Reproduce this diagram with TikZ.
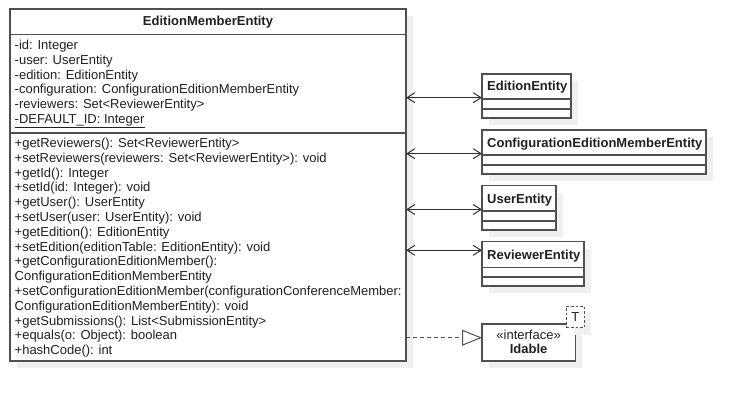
\documentclass[tikz,border=0pt]{standalone}
\usepackage{fontspec}
\setmainfont{Liberation Sans}
\usetikzlibrary{arrows.meta,shadows}
\definecolor{linec}{HTML}{505050}
\definecolor{arrc}{HTML}{303030}
\definecolor{txtc}{HTML}{202020}
\definecolor{shadc}{HTML}{F0F0F0}
\tikzset{
  umlbox/.style={draw=linec, line width=1.1pt, fill=white, inner sep=0pt, outer sep=0pt,
    anchor=north west, drop shadow={shadow xshift=7pt, shadow yshift=-7pt, fill=shadc, opacity=1}},
  tbox/.style={draw=linec, line width=0.9pt, dash pattern=on 2.5pt off 2pt, fill=white, inner sep=0pt, outer sep=0pt,
    anchor=north west, drop shadow={shadow xshift=7pt, shadow yshift=-7pt, fill=shadc, opacity=1}},
  sepline/.style={draw=linec, line width=1.1pt},
  txt/.style={anchor=base west, inner sep=0pt, text=txtc, font=\fontsize{13}{15}\selectfont},
  ttl/.style={anchor=base, inner sep=0pt, text=txtc, font=\fontsize{13}{15}\selectfont\bfseries},
  ctr/.style={anchor=base, inner sep=0pt, text=txtc, font=\fontsize{13}{15}\selectfont},
  assoc/.style={draw=arrc, line width=1.5pt,
    {Straight Barb[length=8pt,width=10pt,line width=1pt]}-{Straight Barb[length=8pt,width=10pt,line width=1pt]}},
  realize/.style={draw=linec, line width=1.3pt, dash pattern=on 4pt off 3pt,
    -{Triangle[open, length=20pt, width=16pt, line width=1pt, fill=white]}},
}
\begin{document}
\begin{tikzpicture}[x=1pt,y=-1pt]
\useasboundingbox (0,0) rectangle (746,401);

% main class
\node[umlbox, minimum width=396, minimum height=352] (main) at (10,9) {};
\coordinate (s1) at (0,34.3);
\coordinate (s2) at (0,133);
\draw[sepline] (main.west |- s1) -- (main.east |- s1);
\draw[sepline] (main.west |- s2) -- (main.east |- s2);
\node[ttl] (title) at (208,25.5) {EditionMemberEntity};

\node[txt] (a1) at (14.5,49.5) {-id: Integer};
\node[txt] (a2) at (14.5,64.3) {-user: UserEntity};
\node[txt] (a3) at (14.5,79.1) {-edition: EditionEntity};
\node[txt] (a4) at (14.5,93.9) {-configuration: ConfigurationEditionMemberEntity};
\node[txt] (a5) at (14.5,108.7) {-reviewers: Set<ReviewerEntity>};
\node[txt] (a6) at (14.5,123.5) {\underline{-DEFAULT\_ID: Integer}};

\node[txt] (m1) at (14.5,147.5) {+getReviewers(): Set<ReviewerEntity>};
\node[txt] (m2) at (14.5,162.3) {+setReviewers(reviewers: Set<ReviewerEntity>): void};
\node[txt] (m3) at (14.5,177.1) {+getId(): Integer};
\node[txt] (m4) at (14.5,191.9) {+setId(id: Integer): void};
\node[txt] (m5) at (14.5,206.7) {+getUser(): UserEntity};
\node[txt] (m6) at (14.5,221.5) {+setUser(user: UserEntity): void};
\node[txt] (m7) at (14.5,236.3) {+getEdition(): EditionEntity};
\node[txt] (m8) at (14.5,251.1) {+setEdition(editionTable: EditionEntity): void};
\node[txt] (m9) at (14.5,265.9) {+getConfigurationEditionMember():};
\node[txt] (m10) at (14.5,280.7) {ConfigurationEditionMemberEntity};
\node[txt] (m11) at (14.5,295.5) {+setConfigurationEditionMember(configurationConferenceMember:};
\node[txt] (m12) at (14.5,310.3) {ConfigurationEditionMemberEntity): void};
\node[txt] (m13) at (14.5,325.1) {+getSubmissions(): List<SubmissionEntity>};
\node[txt] (m14) at (14.5,339.9) {+equals(o: Object): boolean};
\node[txt] (m15) at (14.5,354.7) {+hashCode(): int};

% EditionEntity
\node[umlbox, minimum width=89, minimum height=44] (ed) at (482,74) {};
\draw[sepline] (482,99) -- (571,99);
\draw[sepline] (482,109) -- (571,109);
\node[txt, font=\fontsize{13}{15}\selectfont\bfseries] (edn) at (487,91) {EditionEntity};

% ConfigurationEditionMemberEntity
\node[umlbox, minimum width=224, minimum height=44] (cf) at (482,130) {};
\draw[sepline] (482,155) -- (706,155);
\draw[sepline] (482,165) -- (706,165);
\node[txt, font=\fontsize{13}{15}\selectfont\bfseries] (cfn) at (487,147) {ConfigurationEditionMemberEntity};

% UserEntity
\node[umlbox, minimum width=74, minimum height=44.3] (us) at (482,185.7) {};
\draw[sepline] (482,211) -- (556,211);
\draw[sepline] (482,221) -- (556,221);
\node[txt, font=\fontsize{13}{15}\selectfont\bfseries] (usn) at (487,203) {UserEntity};

% ReviewerEntity
\node[umlbox, minimum width=102, minimum height=44.3] (rv) at (482,241.7) {};
\draw[sepline] (482,267.3) -- (584,267.3);
\draw[sepline] (482,277) -- (584,277);
\node[txt, font=\fontsize{13}{15}\selectfont\bfseries] (rvn) at (487,259) {ReviewerEntity};

% Idable interface
\node[umlbox, minimum width=93.3, minimum height=37] (id) at (482,324) {};
\node[ctr] (ster) at (528.6,339.5) {«interface»};
\node[ctr, font=\fontsize{13}{15}\selectfont\bfseries] (idn) at (528.6,353.5) {Idable};
\node[tbox, minimum width=17.3, minimum height=21.7] (tb) at (566.7,306) {};
\node[ctr] (tl) at (tb.center) [yshift=-4.6pt] {T};

% connectors
\coordinate (c1) at (0,97.7);
\coordinate (c2) at (0,153.7);
\coordinate (c3) at (0,209.5);
\coordinate (c4) at (0,250.3);
\coordinate (c5) at (0,337.7);
\draw[assoc] (main.east |- c1) -- (ed.west |- c1);
\draw[assoc] (main.east |- c2) -- (cf.west |- c2);
\draw[assoc] (main.east |- c3) -- (us.west |- c3);
\draw[assoc] (main.east |- c4) -- (rv.west |- c4);
\draw[realize] (main.east |- c5) -- (id.west |- c5);
\end{tikzpicture}
\end{document}
